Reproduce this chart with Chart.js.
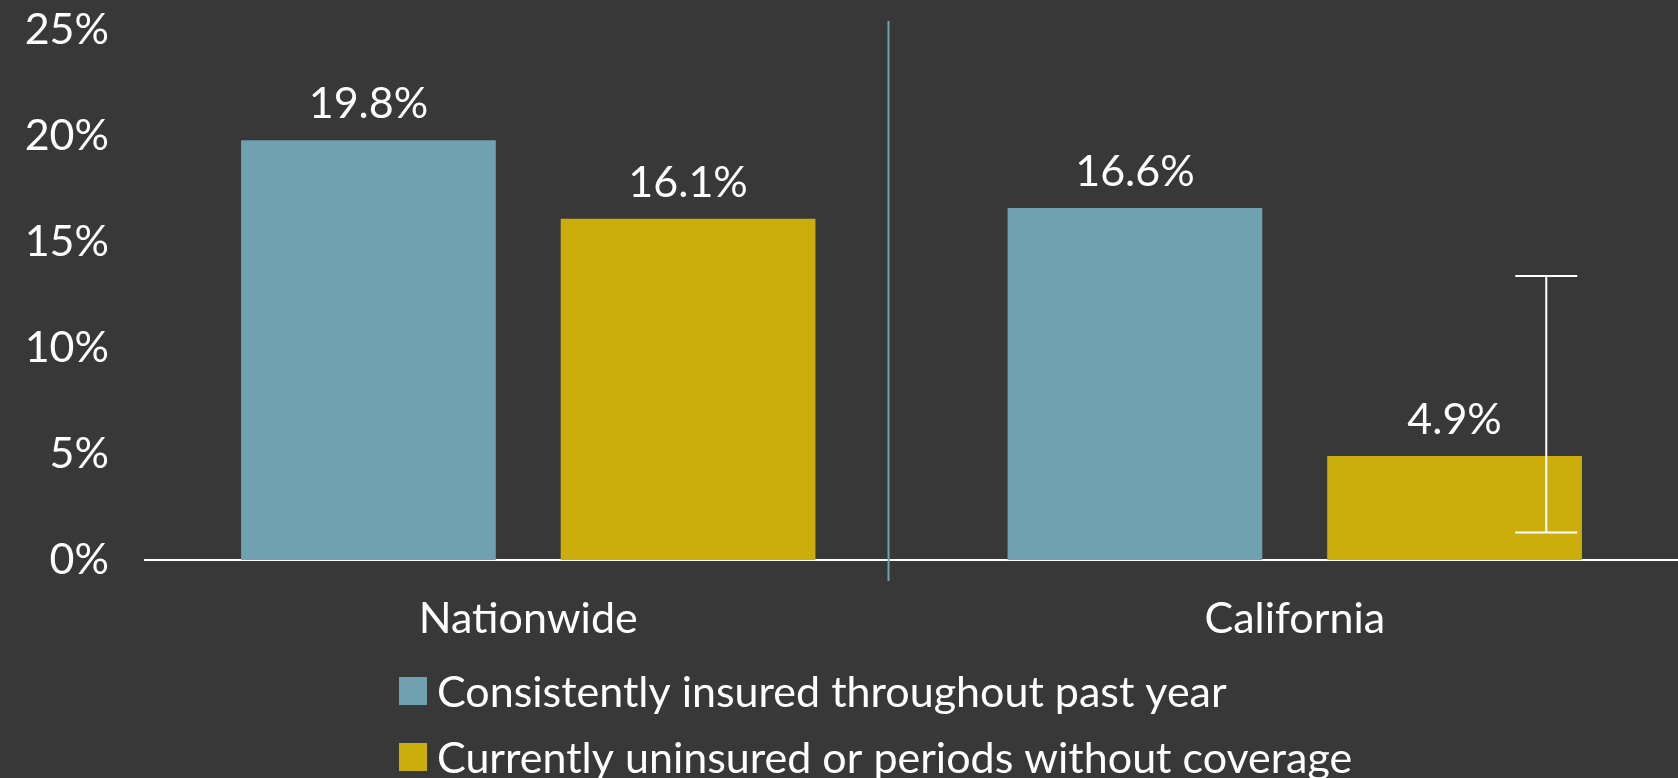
<!DOCTYPE html>
<html>
<head>
<meta charset="utf-8">
<script src="https://cdn.jsdelivr.net/npm/chart.js@4.4.1/dist/chart.umd.min.js"></script>
<style>
  html, body { margin: 0; padding: 0; background: #383838; }
  #wrap { width: 1678px; height: 778px; }
</style>
</head>
<body>
<div id="wrap"><canvas id="chart" width="1678" height="778"></canvas></div>
<script>
// data
const categories = ['Nationwide', 'California'];
const consistentlyInsured = [19.8, 16.6];
const uninsuredOrGaps = [16.1, 4.9];
// error bar for the uninsured series (low, high), null where none is shown
const uninsuredErrLow = [null, 1.3];
const uninsuredErrHigh = [null, 13.4];
const yTicks = [0, 5, 10, 15, 20, 25];

const seriesLabels = [
  'Consistently insured throughout past year',
  'Currently uninsured or periods without coverage'
];
const BLUE = '#6fa1b0';
const GOLD = '#cbae0c';
const TEXT = '#ffffff';
const FONT = 'Lato, "Open Sans", sans-serif';
const FONT_SIZE = 43;

Chart.defaults.font.family = FONT;
Chart.defaults.color = TEXT;

// value labels above each bar
const valueLabels = {
  id: 'valueLabels',
  afterDatasetsDraw(chart) {
    const ctx = chart.ctx;
    ctx.save();
    ctx.font = FONT_SIZE + 'px ' + FONT;
    ctx.fillStyle = TEXT;
    ctx.textAlign = 'center';
    ctx.textBaseline = 'alphabetic';
    chart.data.datasets.forEach((ds, di) => {
      chart.getDatasetMeta(di).data.forEach((bar, i) => {
        ctx.fillText(ds.data[i].toFixed(1) + '%', bar.x, bar.y - 22);
      });
    });
    ctx.restore();
  }
};

// error bar on the uninsured series (drawn off-centre, as in the original)
const errorBars = {
  id: 'errorBars',
  afterDatasetsDraw(chart) {
    const ctx = chart.ctx;
    const y = chart.scales.y;
    const meta = chart.getDatasetMeta(1);
    ctx.save();
    ctx.strokeStyle = '#ffffff';
    ctx.lineWidth = 2;
    meta.data.forEach((bar, i) => {
      if (uninsuredErrLow[i] == null) return;
      const x = bar.x + bar.width * 0.36;
      const top = y.getPixelForValue(uninsuredErrHigh[i]);
      const bot = y.getPixelForValue(uninsuredErrLow[i]);
      const cap = 31;
      ctx.beginPath();
      ctx.moveTo(x, top); ctx.lineTo(x, bot);
      ctx.moveTo(x - cap, top); ctx.lineTo(x + cap, top);
      ctx.moveTo(x - cap, bot); ctx.lineTo(x + cap, bot);
      ctx.stroke();
    });
    ctx.restore();
  }
};

// thin vertical divider between the two groups
const divider = {
  id: 'divider',
  beforeDatasetsDraw(chart) {
    const ctx = chart.ctx;
    const x = chart.scales.x.getPixelForValue(0.47);
    const area = chart.chartArea;
    ctx.save();
    ctx.strokeStyle = BLUE;
    ctx.lineWidth = 2;
    ctx.beginPath();
    ctx.moveTo(x, area.top - 9);
    ctx.lineTo(x, area.bottom + 21);
    ctx.stroke();
    ctx.restore();
  }
};

// legend stacked in one left-aligned column
const columnLegend = {
  id: 'columnLegend',
  afterDraw(chart) {
    const ctx = chart.ctx;
    const left = 399, firstRow = 691, rowGap = 66, box = 28;
    ctx.save();
    ctx.font = FONT_SIZE + 'px ' + FONT;
    ctx.textBaseline = 'middle';
    ctx.textAlign = 'left';
    chart.data.datasets.forEach((ds, i) => {
      const cy = firstRow + i * rowGap;
      ctx.fillStyle = ds.backgroundColor;
      ctx.fillRect(left, cy - box / 2, box, box);
      ctx.fillStyle = TEXT;
      ctx.fillText(ds.label, left + 38, cy + 2);
    });
    ctx.restore();
  }
};

new Chart(document.getElementById('chart'), {
  type: 'bar',
  data: {
    labels: categories,
    datasets: [
      {
        label: seriesLabels[0],
        data: consistentlyInsured,
        backgroundColor: BLUE,
        borderWidth: 0,
        categoryPercentage: 0.834,
        barPercentage: 0.797
      },
      {
        label: seriesLabels[1],
        data: uninsuredOrGaps,
        backgroundColor: GOLD,
        borderWidth: 0,
        categoryPercentage: 0.834,
        barPercentage: 0.797
      }
    ]
  },
  options: {
    responsive: false,
    animation: false,
    layout: { padding: { top: 30, right: 0, bottom: 133, left: 0 } },
    plugins: {
      legend: { display: false },
      tooltip: { enabled: false }
    },
    scales: {
      x: {
        grid: { display: false, drawTicks: false },
        border: { display: true, color: '#ffffff', width: 2 },
        ticks: { font: { size: FONT_SIZE }, color: TEXT, padding: 33 },
        afterFit(scale) { scale.height = 85; scale.paddingLeft = 0; scale.paddingRight = 0; }
      },
      y: {
        min: yTicks[0],
        max: yTicks[yTicks.length - 1],
        afterBuildTicks(scale) { scale.ticks = yTicks.map(v => ({ value: v })); },
        grid: { display: false, drawTicks: false },
        border: { display: false },
        ticks: {
          font: { size: FONT_SIZE },
          color: TEXT,
          padding: 36,
          callback: v => v + '%'
        },
        afterFit(scale) { scale.width = 145; scale.paddingTop = 0; scale.paddingBottom = 0; }
      }
    }
  },
  plugins: [divider, valueLabels, errorBars, columnLegend]
});
</script>
</body>
</html>
